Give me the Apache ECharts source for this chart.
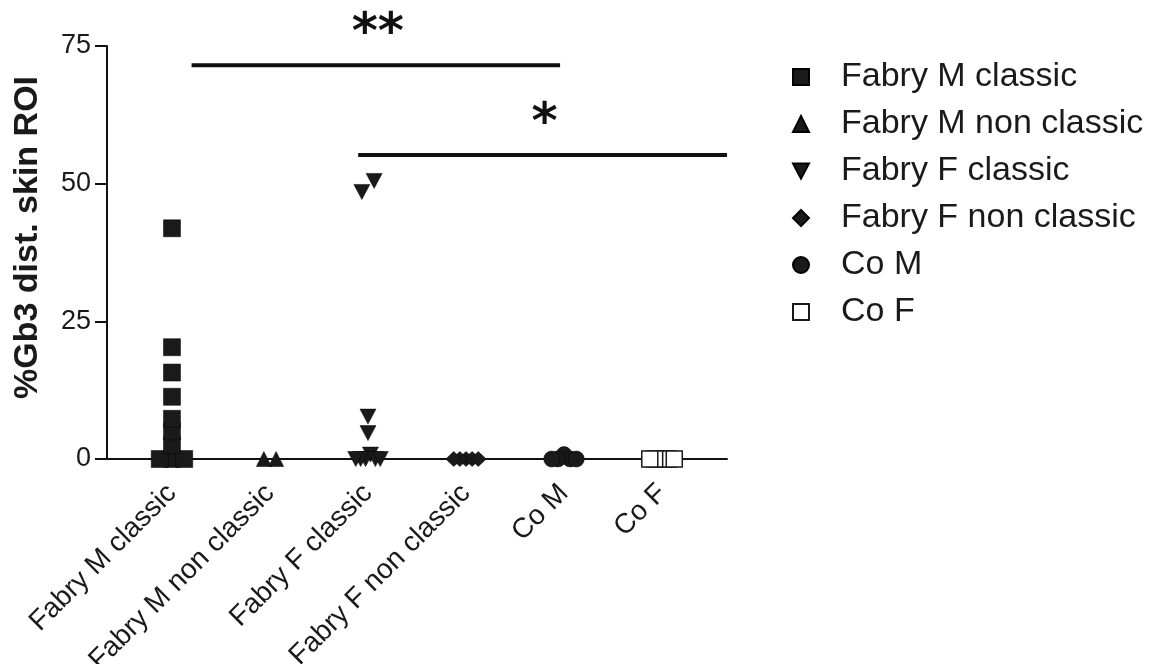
<!DOCTYPE html>
<html>
<head>
<meta charset="utf-8">
<script src="https://cdn.jsdelivr.net/npm/echarts@6/dist/echarts.min.js"></script>
<style>
  html, body { margin: 0; padding: 0; background: #ffffff; }
  #chart { width: 1161px; height: 664px; }
</style>
</head>
<body>
<div id="chart"></div>
<script>
// Groups shown along the x axis (and in the legend)
const categories = [
  'Fabry M classic',
  'Fabry M non classic',
  'Fabry F classic',
  'Fabry F non classic',
  'Co M',
  'Co F'
];

// %Gb3 per subject, one array per group
const fabryMClassic    = [41.9, 20.3, 15.7, 11.3, 7.3, 5.0, 2.5, 0, 0, 0];
const fabryMNonClassic = [0, 0];
const fabryFClassic    = [50.5, 48.5, 7.7, 4.7, 0.8, 0, 0, 0, 0, 0];
const fabryFNonClassic = [0, 0, 0, 0, 0];
const coM              = [0.8, 0, 0, 0, 0];
const coF              = [0, 0, 0, 0, 0, 0];

const yTicks = [0, 25, 50, 75];

// Significance bars: start group, end group, height, label
const sigFrom   = [0.2, 1.9];
const sigTo     = [3.96, 5.663];
const sigLevel  = [71.5, 55.2];
const sigLabels = ['**', '*'];

// Dot-plot layout: values close to each other share a row and are spread sideways
const ROW_TOL = 2.1;   // value units
const STEP = 0.125;    // category units between neighbours in a row
const ROW_MAX = 0.25;  // widest a row may get
function spread(values, center) {
  const sorted = values.slice().sort((a, b) => a - b);
  const rows = [];
  sorted.forEach(v => {
    const row = rows[rows.length - 1];
    if (row && v - row[0] <= ROW_TOL) row.push(v); else rows.push([v]);
  });
  const pts = [];
  rows.forEach(row => {
    const n = row.length;
    const step = n > 1 ? Math.min(STEP, ROW_MAX / (n - 1)) : 0;
    const slots = row.map((_, i) => (i - (n - 1) / 2) * step)
      .sort((a, b) => (Math.abs(a) - Math.abs(b)) || (b - a));
    row.slice().sort((a, b) => b - a).forEach((v, i) => pts.push([center + slots[i], v]));
  });
  return pts;
}

const INK = '#1a1a1a';
const FONT = 'Liberation Sans';
const downTriangle = 'path://M0,0L10,0L5,9.5Z';

const groups = [
  { values: fabryMClassic,    symbol: 'rect',       size: 17 },
  { values: fabryMNonClassic, symbol: 'triangle',   size: [15, 15] },
  { values: fabryFClassic,    symbol: downTriangle, size: [16, 15] },
  { values: fabryFNonClassic, symbol: 'diamond',    size: [16, 15] },
  { values: coM,              symbol: 'circle',     size: 16 },
  { values: coF,              symbol: 'rect',       size: 16, hollow: true }
];

const scatterSeries = groups.map((g, i) => ({
  type: 'scatter',
  name: categories[i],
  data: spread(g.values, i),
  symbol: g.symbol,
  symbolSize: g.size,
  itemStyle: g.hollow
    ? { color: '#ffffff', borderColor: INK, borderWidth: 1.5, opacity: 1 }
    : { color: INK, borderColor: '#000', borderWidth: 0.5, opacity: 1 },
  emphasis: { disabled: true },
  z: 3
}));

const sigSeries = {
  type: 'custom',
  name: 'significance',
  clip: false,
  silent: true,
  z: 4,
  data: sigFrom.map((f, i) => [f, sigTo[i], sigLevel[i]]),
  encode: { x: [0, 1], y: 2 },
  renderItem(params, api) {
    const a = api.coord([api.value(0), api.value(2)]);
    const b = api.coord([api.value(1), api.value(2)]);
    return {
      type: 'group',
      children: [
        { type: 'line', shape: { x1: a[0], y1: a[1], x2: b[0], y2: b[1] },
          style: { stroke: '#111', lineWidth: 4 } },
        { type: 'text', x: (a[0] + b[0]) / 2 + 2, y: a[1] - 5,
          style: { text: sigLabels[params.dataIndex], fill: '#111',
                   font: 'bold 50px "DejaVu Sans"', align: 'center', verticalAlign: 'bottom' } }
      ]
    };
  }
};

const chart = echarts.init(document.getElementById('chart'), null, { renderer: 'canvas' });
chart.setOption({
  backgroundColor: '#ffffff',
  animation: false,
  grid: { left: 107, right: 434, top: 46, bottom: 205, containLabel: false, outerBoundsMode: 'none' },
  legend: {
    orient: 'vertical',
    left: 792,
    top: 60,
    padding: 0,
    itemWidth: 16,
    itemHeight: 16,
    itemGap: 13,
    selectedMode: false,
    data: categories,
    textStyle: { fontSize: 34, color: INK, fontFamily: FONT, lineHeight: 33, padding: [0, 0, 0, 27] }
  },
  xAxis: {
    type: 'value',
    min: -0.663,
    max: 5.663,
    axisLine: { show: true, onZero: false, lineStyle: { color: '#111', width: 2 } },
    axisTick: { show: false },
    splitLine: { show: false },
    axisLabel: {
      customValues: categories.map((_, i) => i),
      formatter: v => categories[Math.round(v)],
      rotate: 45,
      margin: 30,
      fontSize: 28,
      color: INK,
      fontFamily: FONT
    }
  },
  yAxis: {
    type: 'value',
    min: 0,
    max: 75,
    interval: 25,
    name: '%Gb3 dist. skin ROI',
    nameLocation: 'middle',
    nameGap: 62,
    nameTextStyle: { fontSize: 34, fontWeight: 'bold', color: INK, fontFamily: FONT, padding: [0, 0, 0, 30] },
    axisLine: { show: true, onZero: false, lineStyle: { color: '#111', width: 2 } },
    axisTick: { show: true, length: 12, lineStyle: { color: '#111', width: 2 } },
    axisLabel: { customValues: yTicks, fontSize: 27, color: INK, fontFamily: FONT, margin: 16 },
    splitLine: { show: false }
  },
  series: [...scatterSeries, sigSeries]
});
</script>
</body>
</html>
